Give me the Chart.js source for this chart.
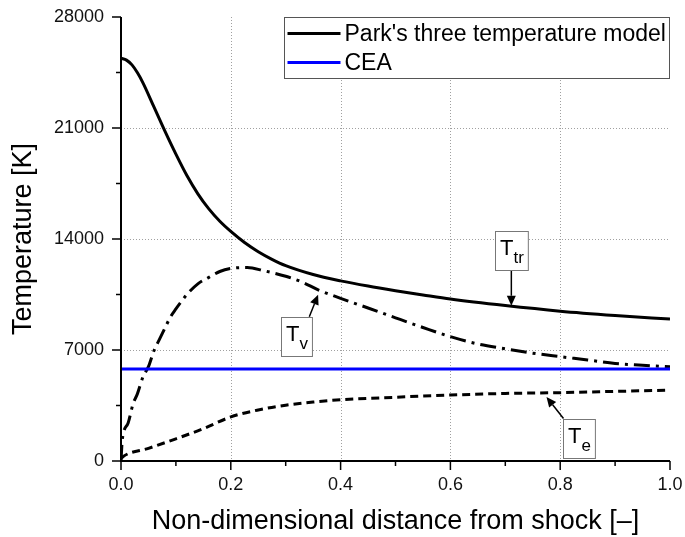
<!DOCTYPE html>
<html>
<head>
<meta charset="utf-8">
<script src="https://cdn.jsdelivr.net/npm/chart.js@4.4.0/dist/chart.umd.min.js"></script>
<style>
html,body{margin:0;padding:0;background:#fff;}
canvas{display:block;}
</style>
</head>
<body>
<canvas id="c" width="685" height="537"></canvas>
<script>
// ---------- data ----------
const distanceTtr = [0, 0.01, 0.02, 0.03, 0.04, 0.06, 0.08, 0.1, 0.12, 0.14, 0.16, 0.18, 0.2, 0.225, 0.25, 0.275, 0.3, 0.35, 0.4, 0.45, 0.5, 0.55, 0.6, 0.7, 0.8, 0.9, 1.0];
const Ttr = [25400, 25280, 24980, 24480, 23850, 22330, 20800, 19350, 18000, 16850, 15900, 15120, 14480, 13780, 13200, 12720, 12320, 11760, 11360, 11030, 10740, 10470, 10210, 9800, 9450, 9180, 8950];

const distanceTv = [0, 0.002, 0.005, 0.013, 0.022, 0.03, 0.04, 0.05, 0.06, 0.07, 0.08, 0.09, 0.1, 0.11, 0.12, 0.14, 0.16, 0.18, 0.2, 0.23, 0.26, 0.3, 0.33, 0.36, 0.4, 0.45, 0.5, 0.55, 0.6, 0.65, 0.7, 0.75, 0.8, 0.85, 0.9, 0.95, 1.0];
const Tv = [0, 1200, 1850, 2400, 3600, 4250, 5300, 5950, 6950, 7670, 8380, 9080, 9590, 10060, 10500, 11170, 11580, 11950, 12140, 12200, 12000, 11650, 11280, 10780, 10260, 9650, 9030, 8420, 7840, 7380, 7080, 6800, 6580, 6370, 6150, 6040, 5940];

const distanceTe = [0, 0.004, 0.05, 0.1, 0.15, 0.2, 0.25, 0.3, 0.35, 0.4, 0.5, 0.6, 0.7, 0.8, 0.9, 1.0];
const Te = [150, 290, 800, 1400, 2040, 2780, 3220, 3520, 3720, 3860, 4020, 4160, 4260, 4310, 4390, 4470];

const distanceCEA = [0, 1.0];
const CEA = [5800, 5800];

const xMajorTicks = [0, 0.2, 0.4, 0.6, 0.8, 1.0];
const xMinorTicks = [0.1, 0.3, 0.5, 0.7, 0.9];
const yMajorTicks = [0, 7000, 14000, 21000, 28000];
const yMinorTicks = [3500, 10500, 17500, 24500];

const seriesLabels = ["Park's three temperature model", "CEA", "Tv", "Te"];

// annotation labels: [main, subscript, box centre (x, T), arrow start (x, T), arrow tip (x, T)]
const annotations = [
  {main: 'T', sub: 'tr', box: [0.711, 13260], from: [0.711, 12030], to: [0.711, 9790]},
  {main: 'T', sub: 'v',  box: [0.319, 7880],  from: [0.343, 9100],  to: [0.359, 10490]},
  {main: 'T', sub: 'e',  box: [0.834, 1440],  from: [0.806, 2675],  to: [0.775, 4040]}
];

// ---------- helpers ----------
const FONT = '"Liberation Sans", Arial, Helvetica, sans-serif';
const zip = (xs, ys) => xs.map((x, i) => ({x: x, y: ys[i]}));

function arrow(ctx, x1, y1, x2, y2) {
  const ang = Math.atan2(y2 - y1, x2 - x1);
  const len = 10, hw = 4.5;
  const bx = x2 - len * Math.cos(ang), by = y2 - len * Math.sin(ang);
  ctx.beginPath();
  ctx.moveTo(x1, y1);
  ctx.lineTo(bx, by);
  ctx.stroke();
  ctx.beginPath();
  ctx.moveTo(x2, y2);
  ctx.lineTo(bx + hw * Math.sin(ang), by - hw * Math.cos(ang));
  ctx.lineTo(bx - hw * Math.sin(ang), by + hw * Math.cos(ang));
  ctx.closePath();
  ctx.fill();
}

const axesPlugin = {
  id: 'axesPlugin',
  beforeDatasetsDraw(chart) {
    const {ctx, chartArea: a, scales: {x, y}} = chart;
    ctx.save();
    ctx.strokeStyle = '#a0a0a0';
    ctx.lineWidth = 1;
    ctx.setLineDash([1, 2]);
    xMajorTicks.forEach(v => {
      if (v <= x.min || v >= x.max) return;
      const px = Math.round(x.getPixelForValue(v)) + 0.5;
      ctx.beginPath(); ctx.moveTo(px, a.top); ctx.lineTo(px, a.bottom); ctx.stroke();
    });
    yMajorTicks.forEach(v => {
      if (v <= y.min || v >= y.max) return;
      const py = Math.round(y.getPixelForValue(v)) + 0.5;
      ctx.beginPath(); ctx.moveTo(a.left, py); ctx.lineTo(a.right, py); ctx.stroke();
    });
    ctx.restore();
  },
  afterDatasetsDraw(chart) {
    const {ctx, chartArea: a, scales: {x, y}} = chart;
    ctx.save();
    ctx.strokeStyle = '#000';
    ctx.lineWidth = 2;
    ctx.setLineDash([]);
    ctx.beginPath();
    ctx.moveTo(a.left, a.top);
    ctx.lineTo(a.left, a.bottom);
    ctx.lineTo(a.right, a.bottom);
    ctx.stroke();
    ctx.lineWidth = 1.5;
    const tickX = (v, len) => { const px = x.getPixelForValue(v); ctx.beginPath(); ctx.moveTo(px, a.bottom); ctx.lineTo(px, a.bottom + len); ctx.stroke(); };
    const tickY = (v, len) => { const py = y.getPixelForValue(v); ctx.beginPath(); ctx.moveTo(a.left, py); ctx.lineTo(a.left - len, py); ctx.stroke(); };
    xMajorTicks.forEach(v => tickX(v, 9));
    xMinorTicks.forEach(v => tickX(v, 5));
    yMajorTicks.forEach(v => tickY(v, 9));
    yMinorTicks.forEach(v => tickY(v, 5));
    ctx.restore();
  }
};

const annotationPlugin = {
  id: 'annotationPlugin',
  afterDatasetsDraw(chart) {
    const {ctx, scales: {x, y}} = chart;
    ctx.save();
    annotations.forEach(an => {
      ctx.font = '22px ' + FONT;
      const wMain = ctx.measureText(an.main).width;
      ctx.font = '17px ' + FONT;
      const wSub = ctx.measureText(an.sub).width;
      const w = wMain + wSub + 9, h = 39;
      const cx = x.getPixelForValue(an.box[0]), cy = y.getPixelForValue(an.box[1]);
      const left = Math.round(cx - w / 2) + 0.5, top = Math.round(cy - h / 2) + 0.5;
      ctx.strokeStyle = '#000'; ctx.fillStyle = '#000'; ctx.lineWidth = 1.5;
      arrow(ctx, x.getPixelForValue(an.from[0]), y.getPixelForValue(an.from[1]),
                 x.getPixelForValue(an.to[0]), y.getPixelForValue(an.to[1]));
      ctx.fillStyle = '#fff';
      ctx.fillRect(left, top, w, h);
      ctx.strokeStyle = '#777'; ctx.lineWidth = 1;
      ctx.strokeRect(left, top, w, h);
      ctx.fillStyle = '#000';
      ctx.textBaseline = 'alphabetic';
      ctx.textAlign = 'left';
      ctx.font = '22px ' + FONT;
      ctx.fillText(an.main, left + 4.5, top + 23.5);
      ctx.font = '17px ' + FONT;
      ctx.fillText(an.sub, left + 4.5 + wMain, top + 31.5);
    });
    ctx.restore();
  }
};

const legendPlugin = {
  id: 'boxLegend',
  afterDraw(chart) {
    const {ctx, chartArea: a} = chart;
    const items = chart.data.datasets.filter(d => d.inLegend !== false);
    ctx.save();
    ctx.font = '23px ' + FONT;
    const textW = Math.max(...items.map(d => ctx.measureText(d.label).width));
    const sample = 53, rowH = 29;
    const w = 3 + sample + 4 + textW + 4;
    const h = items.length * rowH + 3;
    const right = Math.round(a.right) - 0.5;
    const left = Math.round(right - w) + 0.5;
    const top = Math.round(a.top) + 0.5;
    ctx.fillStyle = '#fff';
    ctx.fillRect(left, top, right - left, h);
    ctx.strokeStyle = '#555';
    ctx.lineWidth = 1;
    ctx.strokeRect(left, top, right - left, h);
    items.forEach((d, i) => {
      const cy = top + 16 + i * rowH;
      ctx.strokeStyle = d.borderColor;
      ctx.lineWidth = 3;
      ctx.setLineDash(d.borderDash || []);
      ctx.beginPath();
      ctx.moveTo(left + 3, cy);
      ctx.lineTo(left + 3 + sample, cy);
      ctx.stroke();
      ctx.fillStyle = '#000';
      ctx.textBaseline = 'middle';
      ctx.textAlign = 'left';
      ctx.fillText(d.label, left + 3 + sample + 4, cy + 1);
    });
    ctx.restore();
  }
};

// ---------- chart ----------
const lineBase = {pointRadius: 0, fill: false, cubicInterpolationMode: 'monotone', borderCapStyle: 'butt'};

new Chart(document.getElementById('c').getContext('2d'), {
  type: 'line',
  data: {
    datasets: [
      Object.assign({}, lineBase, {label: seriesLabels[0], data: zip(distanceTtr, Ttr), borderColor: '#000000', borderWidth: 3}),
      Object.assign({}, lineBase, {label: seriesLabels[1], data: zip(distanceCEA, CEA), borderColor: '#0000ff', borderWidth: 3}),
      Object.assign({}, lineBase, {label: seriesLabels[2], data: zip(distanceTv, Tv), borderColor: '#000000', borderWidth: 3, borderDash: [16, 6, 3, 6], inLegend: false}),
      Object.assign({}, lineBase, {label: seriesLabels[3], data: zip(distanceTe, Te), borderColor: '#000000', borderWidth: 3, borderDash: [8, 5], inLegend: false})
    ]
  },
  options: {
    responsive: false,
    animation: false,
    devicePixelRatio: 1,
    layout: {padding: {top: 17, right: 15, left: 0, bottom: 0}},
    plugins: {legend: {display: false}, tooltip: {enabled: false}},
    scales: {
      x: {
        type: 'linear', min: 0, max: 1,
        afterBuildTicks: s => { s.ticks = xMajorTicks.map(v => ({value: v})); },
        afterFit: s => { s.height = 76; s.paddingLeft = 0; s.paddingRight = 0; },
        ticks: {callback: v => Number(v).toFixed(1), font: {family: FONT, size: 18}, color: '#111', padding: 5, maxRotation: 0, autoSkip: false},
        grid: {display: false},
        border: {display: false},
        title: {display: true, text: 'Non-dimensional distance from shock [–]', font: {family: FONT, size: 27}, color: '#000', padding: {top: 0, bottom: -1}}
      },
      y: {
        type: 'linear', min: 0, max: 28000,
        afterBuildTicks: s => { s.ticks = yMajorTicks.map(v => ({value: v})); },
        afterFit: s => { s.width = 121; s.paddingTop = 0; s.paddingBottom = 0; },
        ticks: {callback: v => String(v), font: {family: FONT, size: 18}, color: '#111', padding: 9, autoSkip: false},
        grid: {display: false},
        border: {display: false},
        title: {display: true, text: 'Temperature [K]', font: {family: FONT, size: 27}, color: '#000', padding: {top: 7, bottom: 0}}
      }
    }
  },
  plugins: [axesPlugin, annotationPlugin, legendPlugin]
});
</script>
</body>
</html>
